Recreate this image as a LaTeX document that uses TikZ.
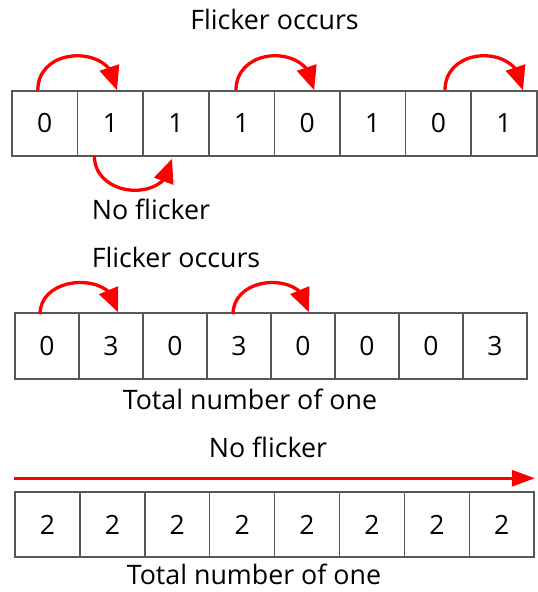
\documentclass[tikz,border=0pt]{standalone}
\usepackage{fontspec}
\setmainfont{Open Sans}
\usetikzlibrary{arrows.meta,bending}
\definecolor{cellline}{RGB}{88,88,88}
\definecolor{flred}{RGB}{255,0,0}
\tikzset{
  cell/.style={draw=cellline, line width=1.5pt, inner sep=0pt, minimum height=65pt,
    font=\fontsize{26.5}{30}\selectfont},
  lbl/.style={anchor=base, inner sep=0pt, font=\fontsize{26.8}{30}\selectfont},
  hop/.style={draw=flred, line width=3.3pt, -{Triangle[length=24pt,width=20pt,flex]}},
  run/.style={draw=flred, line width=3pt, -{Triangle[length=23pt,width=16pt]}}
}
\begin{document}
\begin{tikzpicture}[x=1pt,y=1pt]
\useasboundingbox (0,0) rectangle (538,592);

% first row: raw bit pattern
\foreach \v [count=\i] in {0,1,1,1,0,1,0,1}
  \node[cell, minimum width=65.6pt] (r1c\i) at ({12+65.6*(\i-0.5)},468.5) {\v};
% second row: counts per cell
\foreach \v [count=\i] in {0,3,0,3,0,0,0,3}
  \node[cell, minimum width=64pt, minimum height=66pt] (r2c\i) at ({15+64*(\i-0.5)},246) {\v};
% third row: balanced counts
\foreach \v [count=\i] in {2,2,2,2,2,2,2,2}
  \node[cell, minimum width=64.9pt] (r3c\i) at ({15+64.9*(\i-0.5)},67.5) {\v};

% labels
\node[lbl] (t1) at (274.5,562) {Flicker occurs};
\node[lbl] (t2) at (151,372) {No flicker};
\node[lbl] (t3) at (176,324) {Flicker occurs};
\node[lbl] (t4) at (250,182) {Total number of one};
\node[lbl] (t5) at (268,134) {No flicker};
\node[lbl] (t6) at (254,7) {Total number of one};

% transitions on the first row
\draw[hop] ([xshift=-7pt]r1c1.north) .. controls +(0,46) and +(0,46) .. ([xshift=6.6pt]r1c2.north);
\draw[hop] ([xshift=-5.6pt]r1c4.north) .. controls +(0,46) and +(0,46) .. ([xshift=7pt]r1c5.north);
\draw[hop] ([xshift=6.6pt]r1c7.north) .. controls +(0,46) and +(0,46) .. ([xshift=19pt]r1c8.north);
\draw[hop] ([xshift=-16pt,yshift=1pt]r1c2.south) .. controls +(0,-44) and +(0,-44) .. ([xshift=-4pt,yshift=-2pt]r1c3.south);

% transitions on the second row
\draw[hop] ([xshift=-7pt,yshift=-2pt]r2c1.north) .. controls +(0,41) and +(0,41) .. ([xshift=7pt]r2c2.north);
\draw[hop] ([xshift=-6pt,yshift=-2pt]r2c4.north) .. controls +(0,41) and +(0,41) .. ([xshift=6pt]r2c5.north);

% steady run over the third row
\draw[run] ([yshift=13pt]r3c1.north west) -- ([yshift=13pt]r3c8.north east);
\end{tikzpicture}
\end{document}
